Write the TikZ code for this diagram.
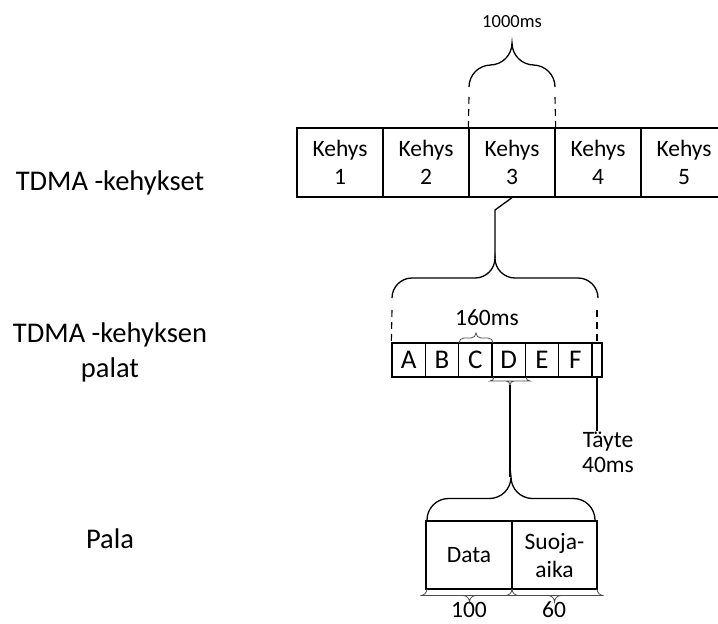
\documentclass[tikz,border=0pt]{standalone}
\usepackage{fontspec}
\setmainfont{Carlito}
\usetikzlibrary{positioning}
\tikzset{frame/.style={draw, line width=1.3pt, minimum width=86pt, minimum height=69pt, inner sep=0pt, align=center, font=\fontsize{23.5}{27.5}\selectfont},
	slot/.style={draw, line width=1.3pt, minimum width=33.33pt, minimum height=34pt, inner sep=0pt, font=\fontsize{27}{29}\selectfont},
	piece/.style={draw, line width=1.3pt, minimum height=68pt, inner sep=0pt, align=center, font=\fontsize{23.5}{28}\selectfont},
	lbl/.style={inner sep=0pt, align=center, font=\fontsize{23.5}{25}\selectfont},
	side/.style={inner sep=0pt, align=center, font=\fontsize{28.5}{35}\selectfont},
	guide/.style={line width=1.1pt, dash pattern=on 7pt off 5pt},
	link/.style={line width=1.3pt},
	bigbrace/.style={line width=1.3pt},
	smallbrace/.style={line width=0.8pt, gray!60!black}}
% brace like a word processor draws it: ends at (x1,y),(x2,y), tip at height h
\newcommand{\wbrace}[5][]{%
	\pgfmathsetmacro{\br}{abs(#5)/2}%
	\pgfmathsetmacro{\bxm}{(#2+#3)/2}%
	\pgfmathsetmacro{\bym}{#4-(#5)/2}%
	\pgfmathsetmacro{\byt}{#4-(#5)}%
	\pgfmathsetmacro{\byc}{#4-0.276*(#5)}%
	\pgfmathsetmacro{\byd}{#4-0.724*(#5)}%
	\pgfmathsetmacro{\bxa}{#2+\br}%
	\pgfmathsetmacro{\bxb}{#2+0.448*\br}%
	\pgfmathsetmacro{\bxc}{\bxm-\br}%
	\pgfmathsetmacro{\bxd}{\bxm-0.448*\br}%
	\pgfmathsetmacro{\bxe}{\bxm+0.448*\br}%
	\pgfmathsetmacro{\bxf}{\bxm+\br}%
	\pgfmathsetmacro{\bxg}{#3-\br}%
	\pgfmathsetmacro{\bxh}{#3-0.448*\br}%
	\draw[#1] (#2,#4) .. controls (#2,\byc) and (\bxb,\bym) .. (\bxa,\bym) -- (\bxc,\bym)
		.. controls (\bxd,\bym) and (\bxm,\byd) .. (\bxm,\byt)
		.. controls (\bxm,\byd) and (\bxe,\bym) .. (\bxf,\bym) -- (\bxg,\bym)
		.. controls (\bxh,\bym) and (#3,\byc) .. (#3,#4);}

\begin{document}
\begin{tikzpicture}[x=1pt, y=-1pt]
	\useasboundingbox (0,0) rectangle (718,624);
	% row labels
	\node[side, anchor=base] (rowf) at (110,190) {TDMA -kehykset};
	\node[side] (rows) at (110,352) {TDMA -kehyksen\\palat};
	\node[side, anchor=base] (rowp) at (110,548) {Pala};
	% frames
	\foreach \i in {1,...,5}
		\node[frame] (f\i) at ({297+86*(\i-1)+43},162.5) {Kehys\\\i};
	\wbrace[bigbrace]{469}{555}{87}{44}
	\node[lbl, font=\fontsize{18.5}{20}\selectfont, anchor=base] (t1000) at (512,27) {1000ms};
	\draw[guide] (469,97) -- (f3.north west);
	\draw[guide] (555,97) -- (f3.north east);
	% slots
	\foreach \l [count=\i] in {A,B,C,D,E,F}
		\node[slot] (s\l) at ({392+33.33*(\i-0.5)},360) {\l};
	\node[slot, minimum width=10pt] (fill) at (597,360) {};
	\coordinate (bend) at (495,210);
	\coordinate (tipS) at (495,258);
	\wbrace[bigbrace]{392}{598}{298}{40}
	\draw[link] (f3.south) -- (bend) -- (tipS);
	\draw[guide] (392,310) -- (sA.north west);
	\draw[guide] (597,310) -- (fill.north);
	\wbrace[smallbrace]{459}{493}{343}{10}
	\node[lbl, anchor=base] (t160) at (487,325) {160ms};
	\wbrace[smallbrace]{526}{494}{377}{-8}
	\node[lbl] (tayte) at (608,452) {Täyte\\40ms};
	\draw[link] (fill.south) -- (tayte.north -| fill.south);
	% one slot
	\node[piece, minimum width=86pt] (data) at (469,555) {Data};
	\node[piece, minimum width=85pt] (suoja) at (554.5,555) {Suoja-\\aika};
	\coordinate (tipD) at (510,385);
	\coordinate (tipP) at (510,477);
	\wbrace[bigbrace]{427}{595}{520}{43}
	\draw[link] (tipD) -- (tipP);
	\wbrace[smallbrace]{512}{427}{589}{-13}
	\wbrace[smallbrace]{597}{512}{589}{-13}
	\node[lbl, anchor=base] (t100) at (469,617) {100};
	\node[lbl, anchor=base] (t60) at (554,617) {60};
\end{tikzpicture}
\end{document}
